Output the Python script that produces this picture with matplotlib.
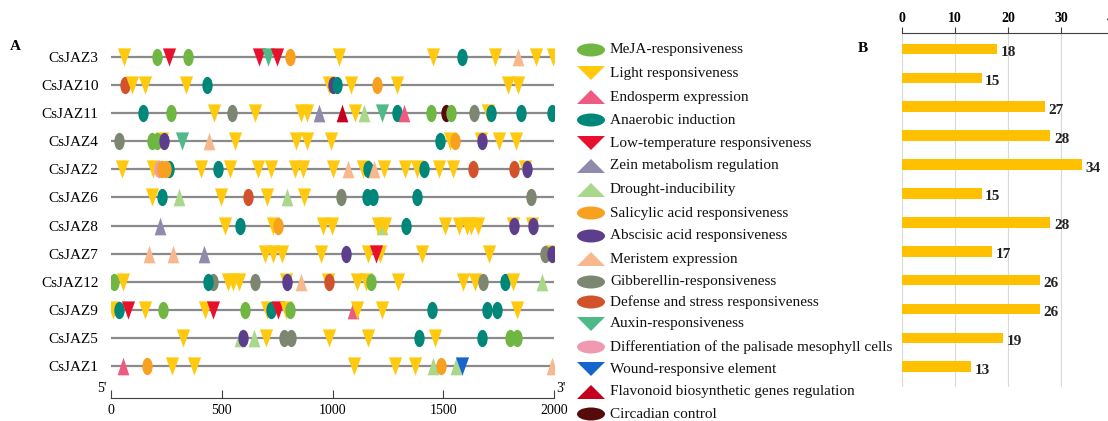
import matplotlib
matplotlib.use("Agg")
import matplotlib.pyplot as plt
import numpy as np
from matplotlib.path import Path
from matplotlib.patches import Ellipse, Polygon

plt.rcParams['font.family'] = ['Liberation Serif', 'DejaVu Serif']

# ---------------- data ----------------
genes = ["CsJAZ3", "CsJAZ10", "CsJAZ11", "CsJAZ4", "CsJAZ2", "CsJAZ6",
         "CsJAZ8", "CsJAZ7", "CsJAZ12", "CsJAZ9", "CsJAZ5", "CsJAZ1"]
element_counts = [18, 15, 27, 28, 34, 15, 28, 17, 26, 26, 19, 13]

element_names = ["MeJA-responsiveness", "Light responsiveness", "Endosperm expression",
                 "Anaerobic induction", "Low-temperature responsiveness",
                 "Zein metabolism regulation", "Drought-inducibility",
                 "Salicylic acid responsiveness", "Abscisic acid responsiveness",
                 "Meristem expression", "Gibberellin-responsiveness",
                 "Defense and stress responsiveness", "Auxin-responsiveness",
                 "Differentiation of the palisade mesophyll cells",
                 "Wound-responsive element", "Flavonoid biosynthetic genes regulation",
                 "Circadian control"]
element_keys = ["mj", "li", "en", "an", "lt", "ze", "dr", "sa", "ab", "me",
                "gi", "de", "au", "pa", "wo", "fl", "ci"]

sites_JAZ3 = [("li", 59), ("mj", 208), ("lt", 262), ("mj", 348), ("lt", 668), ("au", 709),
              ("lt", 750), ("sa", 808), ("li", 1029), ("li", 1454), ("an", 1585), ("li", 1734),
              ("me", 1838), ("li", 1919), ("li", 1996)]
sites_JAZ10 = [("de", 63), ("li", 95), ("li", 154), ("li", 337), ("an", 433), ("li", 985),
               ("ab", 1002), ("an", 1020), ("li", 1084), ("sa", 1201), ("li", 1291),
               ("li", 1793), ("li", 1838)]
sites_JAZ11 = [("an", 144), ("mj", 271), ("li", 465), ("gi", 546), ("li", 650), ("li", 858),
               ("li", 885), ("ze", 939), ("fl", 1043), ("li", 1102), ("dr", 1142), ("au", 1224),
               ("an", 1291), ("en", 1323), ("mj", 1445), ("ci", 1512), ("mj", 1535),
               ("gi", 1639), ("li", 1702), ("an", 1716), ("an", 1851), ("an", 1991)]
sites_JAZ4 = [("gi", 36), ("mj", 185), ("li", 230), ("mj", 208), ("ab", 239), ("au", 320),
              ("me", 442), ("li", 560), ("li", 835), ("li", 885), ("li", 993), ("an", 1486),
              ("li", 1531), ("sa", 1553), ("li", 1670), ("ab", 1675), ("li", 1752), ("li", 1829)]
sites_JAZ2 = [("li", 50), ("li", 190), ("an", 262), ("pa", 215), ("sa", 230), ("sa", 248),
              ("li", 406), ("an", 483), ("li", 537), ("li", 664), ("li", 722), ("li", 831),
              ("li", 867), ("li", 1002), ("me", 1070), ("li", 1138), ("an", 1160), ("me", 1187),
              ("li", 1233), ("li", 1327), ("li", 1382), ("an", 1413), ("li", 1481), ("li", 1544),
              ("de", 1634), ("de", 1820), ("li", 1870), ("ab", 1878)]
sites_JAZ6 = [("li", 185), ("an", 230), ("dr", 307), ("li", 497), ("de", 619), ("li", 704),
              ("dr", 795), ("li", 871), ("gi", 1038), ("an", 1156), ("an", 1183), ("an", 1382),
              ("gi", 1896)]
sites_JAZ8 = [("ze", 221), ("li", 515), ("an", 582), ("li", 731), ("sa", 754), ("li", 957),
              ("li", 998), ("dr", 1224), ("li", 1205), ("li", 1238), ("an", 1332), ("li", 1508),
              ("li", 1571), ("li", 1607), ("li", 1625), ("li", 1657), ("li", 1815), ("ab", 1820),
              ("li", 1900), ("ab", 1905)]
sites_JAZ7 = [("me", 172), ("me", 280), ("ze", 420), ("li", 695), ("li", 731), ("li", 772),
              ("li", 948), ("ab", 1061), ("li", 1160), ("li", 1215), ("lt", 1196), ("li", 1404),
              ("li", 1707), ("li", 1985), ("gi", 1960), ("ab", 1991)]
sites_JAZ12 = [("mj", 14), ("li", 54), ("gi", 461), ("an", 438), ("li", 528), ("li", 551),
               ("li", 578), ("gi", 650), ("li", 790), ("ab", 795), ("me", 858), ("li", 980),
               ("de", 984), ("li", 1111), ("li", 1151), ("mj", 1174), ("li", 1296), ("li", 1589),
               ("li", 1643), ("gi", 1680), ("an", 1779), ("li", 1815), ("dr", 1946)]
sites_JAZ9 = [("li", 9), ("an", 36), ("lt", 77), ("li", 154), ("mj", 235), ("li", 424),
              ("lt", 461), ("mj", 605), ("li", 704), ("an", 722), ("lt", 754), ("li", 790),
              ("mj", 808), ("en", 1093), ("li", 1111), ("li", 1224), ("an", 1449), ("an", 1698),
              ("an", 1743), ("li", 1833)]
sites_JAZ5 = [("li", 325), ("dr", 582), ("ab", 596), ("dr", 646), ("li", 700), ("gi", 781),
              ("gi", 813), ("li", 984), ("li", 1160), ("an", 1391), ("li", 1463), ("an", 1675),
              ("mj", 1801), ("mj", 1833)]
sites_JAZ1 = [("en", 54), ("sa", 163), ("li", 275), ("li", 375), ("li", 1097), ("li", 1282),
              ("li", 1373), ("dr", 1454), ("sa", 1490), ("dr", 1558), ("wo", 1585), ("me", 1991)]

gene_sites = [sites_JAZ3, sites_JAZ10, sites_JAZ11, sites_JAZ4, sites_JAZ2, sites_JAZ6,
              sites_JAZ8, sites_JAZ7, sites_JAZ12, sites_JAZ9, sites_JAZ5, sites_JAZ1]

seq_ticks = [0, 500, 1000, 1500, 2000]
count_ticks = [0, 10, 20, 30, 40]

# ---------------- style ----------------
colors = {"mj": "#70B643", "li": "#FFC90E", "en": "#EF5B80", "an": "#00877A",
          "lt": "#E8112D", "ze": "#8F8BAD", "dr": "#A9D88B", "sa": "#F8A01F",
          "ab": "#5C3E8C", "me": "#F8B88D", "gi": "#7D8670", "de": "#D2532B",
          "au": "#4DBA87", "pa": "#F09AB2", "wo": "#1565CC", "fl": "#C5001C",
          "ci": "#560A0A"}
shapes = {"mj": "ell", "li": "down", "en": "up", "an": "ell", "lt": "down", "ze": "up",
          "dr": "up", "sa": "ell", "ab": "ell", "me": "up", "gi": "ell", "de": "ell",
          "au": "down", "pa": "ell", "wo": "down", "fl": "up", "ci": "ell"}

down_path = Path([(-0.36, 0.5), (0.36, 0.5), (0, -0.5), (-0.36, 0.5)], closed=True)
up_path = Path([(-0.33, -0.5), (0.33, -0.5), (0, 0.5), (-0.33, -0.5)], closed=True)
circ = Path.unit_circle()
ell_path = Path(circ.vertices * np.array([0.3, 0.5]), circ.codes)
mk = {"down": down_path, "up": up_path, "ell": ell_path}
msize = {"down": 172, "up": 162, "ell": 155}

W, H = 1108, 421
fig = plt.figure(figsize=(W / 100, H / 100), dpi=100)

def px_rect(x0, y0, x1, y1):
    return [x0 / W, 1 - y1 / H, (x1 - x0) / W, (y1 - y0) / H]

# ---------------- panel A ----------------
axA = fig.add_axes(px_rect(111, 40, 554, 398))
axA.set_xlim(0, 2000)
axA.set_ylim(12.14, -0.605)
for i, sites in enumerate(gene_sites):
    axA.plot([0, 2000], [i, i], color="#8A8A8A", lw=1.6, zorder=1, solid_capstyle="butt")
    for key, pos in sites:
        s = shapes[key]
        axA.scatter([pos], [i], marker=mk[s], s=msize[s], color=colors[key],
                    linewidths=0, zorder=3)
axA.set_yticks(range(len(genes)))
axA.set_yticklabels(genes, fontsize=11)
axA.tick_params(axis="y", length=0, pad=9)
axA.set_xticks(seq_ticks)
axA.set_xticklabels([str(t) for t in seq_ticks], fontsize=10)
axA.tick_params(axis="x", direction="in", length=6, width=0.8, color="#404040", pad=4)
for sp in ["top", "right", "left"]:
    axA.spines[sp].set_visible(False)
axA.spines["bottom"].set_color("#404040")
axA.spines["bottom"].set_linewidth(0.8)
axA.patch.set_alpha(0)

# ---------------- panel B ----------------
axB = fig.add_axes(px_rect(902, 33, 1114, 387))
axB.set_xlim(0, 40)
axB.set_ylim(11.70, -0.554)
yb = np.arange(len(element_counts))
axB.barh(yb, element_counts, height=0.37, color="#FFC000", zorder=2)
for y, v in zip(yb, element_counts):
    axB.text(v + 0.7, y + 0.12, str(v), fontsize=11, fontweight="bold",
             va="center", ha="left", color="#222222")
axB.xaxis.tick_top()
axB.set_xticks(count_ticks)
axB.set_xticklabels([str(t) for t in count_ticks], fontsize=10, fontweight="bold")
axB.tick_params(axis="x", length=4, width=0.8, color="#404040", pad=2)
axB.set_yticks([])
axB.grid(axis="x", color="#D9D9D9", lw=0.8, zorder=0)
for sp in ["bottom", "right", "left"]:
    axB.spines[sp].set_visible(False)
axB.spines["top"].set_color("#404040")
axB.spines["top"].set_linewidth(0.8)
axB.patch.set_alpha(0)

# ---------------- overlay: legend & labels ----------------
ov = fig.add_axes([0, 0, 1, 1])
ov.set_xlim(0, W)
ov.set_ylim(H, 0)
ov.axis("off")
leg_y = [50, 73, 97, 120, 143, 166, 190, 213, 236, 259, 282, 302, 324, 347, 369, 392, 414]
for key, name, y in zip(element_keys, element_names, leg_y):
    s = shapes[key]
    c = colors[key]
    if s == "ell":
        ov.add_patch(Ellipse((591, y), 28, 13, color=c, lw=0))
    elif s == "down":
        ov.add_patch(Polygon([(577, y - 7), (605, y - 7), (591, y + 7)], closed=True, color=c, lw=0))
    else:
        ov.add_patch(Polygon([(577, y + 7), (605, y + 7), (591, y - 7)], closed=True, color=c, lw=0))
    ov.text(610, y, name, fontsize=11, va="center", ha="left", color="#111111")

ov.text(15, 47, "A", fontsize=11, fontweight="bold", va="center", ha="center")
ov.text(863, 48, "B", fontsize=11, fontweight="bold", va="center", ha="center")
ov.text(102, 389, "5'", fontsize=10, va="center", ha="center")
ov.text(561, 388, "3'", fontsize=10, va="center", ha="center")

fig.savefig("out.png", dpi=100)
